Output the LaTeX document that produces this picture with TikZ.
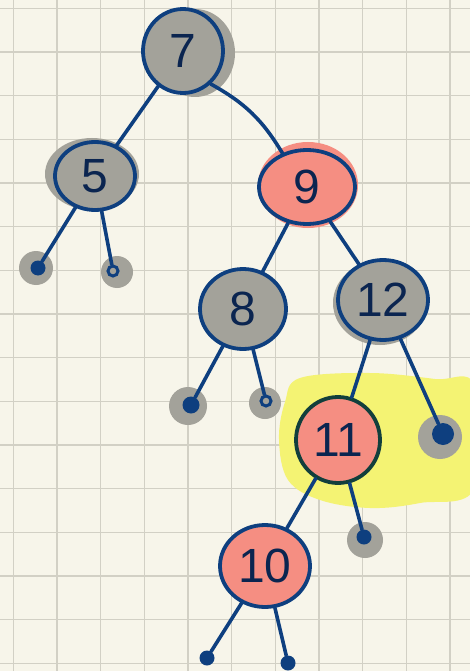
\documentclass[tikz,border=0pt]{standalone}
\usepackage{fontspec}
\setmainfont{Liberation Sans}
\usetikzlibrary{shapes.geometric,positioning,calc}
\definecolor{paper}{HTML}{F7F5EA}
\definecolor{gridgrey}{HTML}{D2D0C5}
\definecolor{ink}{HTML}{0E3F7F}
\definecolor{digit}{HTML}{0B2550}
\definecolor{smudge}{HTML}{A3A29A}
\definecolor{salmon}{HTML}{F58E82}
\definecolor{marker}{HTML}{F4F373}
\definecolor{darkink}{HTML}{123F3C}

\begin{document}
\begin{tikzpicture}[
    x=1pt, y=1pt,
    font=\fontsize{48}{48}\selectfont,
    gridline/.style={draw=gridgrey, line width=1.3pt},
    rbnode/.style={ellipse, draw=ink, line width=3.8pt, text=digit, inner sep=0pt},
    blknode/.style={rbnode, fill=smudge},
    rednode/.style={rbnode, fill=salmon},
    nilfull/.style={circle, fill=ink, inner sep=0pt, minimum size=15pt},
    nilring/.style={circle, draw=ink, fill=smudge, line width=3pt, inner sep=0pt, minimum size=10pt},
    halo/.style={fill=smudge},
    link/.style={draw=ink, line width=3.6pt, line cap=round}
]

% paper and grid
\fill[paper] (0,0) rectangle (470,-671);
\useasboundingbox (0,0) rectangle (470,-671);
\foreach \i in {0,...,10}
    \draw[gridline] ({13.3+43.67*\i},0) -- ({13.3+43.67*\i},-671);
\foreach \j in {0,...,15}
    \draw[gridline] (0,{-8.3-43.67*\j}) -- (470,{-8.3-43.67*\j});

% highlighter round 11
\fill[marker] plot[smooth cycle, tension=0.6] coordinates {
    (300,-378) (370,-373) (435,-379) (475,-386) (475,-488)
    (420,-503) (370,-508) (320,-500) (288,-480) (279,-440) (285,-402)};

% smudges behind the nodes
\fill[halo] (195,-53) ellipse (40 and 44);
\fill[halo] (92,-174) ellipse (47 and 36);
\fill[halo] (380,-303) ellipse (47 and 42);
\fill[salmon] (308,-185) ellipse (50 and 43);
\fill[halo] (36,-268) circle (17);
\fill[halo] (117,-272) circle (16);
\fill[halo] (188,-406) circle (19);
\fill[halo] (265,-403) circle (16);
\fill[halo] (440,-437) circle (22);
\fill[halo] (365,-540) circle (18);

% tree nodes
\node[blknode, minimum width=80pt, minimum height=84pt] (n7) at (183,-51) {7};
\node[blknode, minimum width=80pt, minimum height=68pt] (n5) at (95,-176) {5};
\node[rednode, minimum width=96pt, minimum height=74pt] (n9) at (307,-187) {9};
\node[blknode, minimum width=86pt, minimum height=80pt] (n8) at (243,-309) {8};
\node[blknode, minimum width=90pt, minimum height=80pt] (n12) at (383,-300) {12};
\node[rednode, draw=darkink, minimum width=84pt, minimum height=86pt] (n11) at (338,-440) {11};
\node[rednode, minimum width=90pt, minimum height=82pt] (n10) at (265,-566) {10};

% nil leaves
\node[nilfull] (l5a) at (38,-268) {};
\node[nilring] (l5b) at (113,-271) {};
\node[nilfull, minimum size=17pt] (l8a) at (191,-405) {};
\node[nilring] (l8b) at (266,-401) {};
\node[nilfull, minimum size=22pt] (l12b) at (443,-434) {};
\node[nilfull] (l11b) at (364,-537) {};
\node[nilfull] (l10a) at (207,-658) {};
\node[nilfull] (l10b) at (288,-663) {};

% links
\draw[link] (n7) -- (n5);
\draw[link] (n7.-50) to[bend left=15] (n9.126);
\draw[link] (n5) -- (l5a);
\draw[link] (n5) -- (l5b);
\draw[link] (n9) -- (n8);
\draw[link] (n9) -- (n12);
\draw[link] (n8) -- (l8a);
\draw[link] (n8) -- (l8b);
\draw[link] (n12) -- (n11);
\draw[link] (n12) -- (l12b);
\draw[link] (n11) -- (n10);
\draw[link] (n11) -- (l11b);
\draw[link] (n10) -- (l10a);
\draw[link] (n10) -- (l10b);

\end{tikzpicture}
\end{document}
